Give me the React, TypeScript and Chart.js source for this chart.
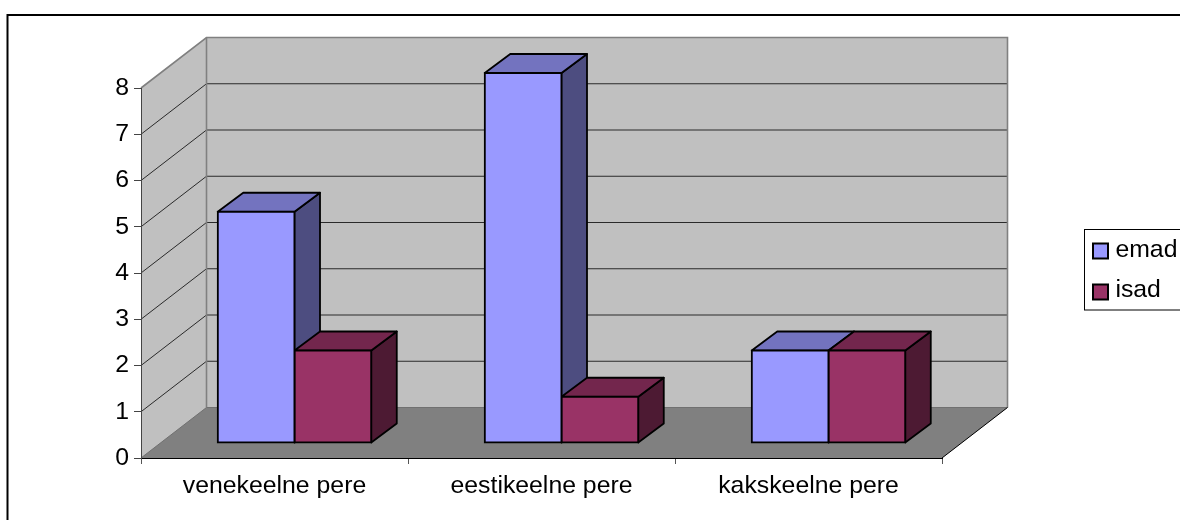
import React, { useEffect, useRef } from "react";
import { Chart, registerables } from "chart.js";

Chart.register(...registerables);

const categories = ["venekeelne pere", "eestikeelne pere", "kakskeelne pere"];
const emad = [5, 8, 2];
const isad = [2, 1, 2];
const yTicks = [0, 1, 2, 3, 4, 5, 6, 7, 8];

const FONT = "'Liberation Sans', Arial, sans-serif";
const FONT_SIZE = 24.8;
const AREA = { left: 141, right: 942, top: 88, bottom: 458 };
const WALL = { dx: 65.5, dy: -50.5 };
const BAR_SHIFT = { dx: 20, dy: -15 };
const BAR_DEPTH = { dx: 25.5, dy: -19 };
const LEGEND = { x: 1084.5, y: 229.5, bottom: 310, swatchX: 1093, swatchSize: 15, swatchY: [251, 292], rowTop: 237.6, padding: 15.8 };

const palette = [
  { front: "#9999FF", top: "#7373BF", side: "#4D4D80" },
  { front: "#993366", top: "#73264D", side: "#4D1A33" },
];

function poly(ctx: CanvasRenderingContext2D, pts: number[][], fill?: string, stroke?: string, lw = 1) {
  ctx.beginPath();
  pts.forEach((p, i) => (i ? ctx.lineTo(p[0], p[1]) : ctx.moveTo(p[0], p[1])));
  ctx.closePath();
  if (fill) {
    ctx.fillStyle = fill;
    ctx.fill();
  }
  if (stroke) {
    ctx.strokeStyle = stroke;
    ctx.lineWidth = lw;
    ctx.lineJoin = "round";
    ctx.stroke();
  }
}

function line(ctx: CanvasRenderingContext2D, pts: number[][], stroke: string, lw = 1) {
  ctx.beginPath();
  pts.forEach((p, i) => (i ? ctx.lineTo(p[0], p[1]) : ctx.moveTo(p[0], p[1])));
  ctx.strokeStyle = stroke;
  ctx.lineWidth = lw;
  ctx.stroke();
}

const scenePlugin = {
  id: "scene3d",
  afterLayout(chart: any) {
    const l = chart.legend;
    l.left = LEGEND.swatchX - LEGEND.padding;
    l.right = 1300;
    l.top = LEGEND.rowTop - LEGEND.padding;
    l.bottom = 520;
  },
  beforeDraw(chart: any) {
    const { ctx, scales } = chart;
    const y = scales.y;
    const { left, right } = chart.chartArea;
    const yTop = y.getPixelForValue(8);
    const yBase = y.getPixelForValue(0);
    const bx = left + WALL.dx;
    const bxr = right + WALL.dx;
    ctx.save();
    ctx.strokeStyle = "#000";
    ctx.lineWidth = 2;
    ctx.strokeRect(7.5, 15, 1300, 700);
    poly(ctx, [[left, yTop], [bx, yTop + WALL.dy], [bxr, yTop + WALL.dy], [bxr, yBase + WALL.dy], [right, yBase], [left, yBase]], "#C0C0C0");
    poly(ctx, [[left, yBase], [bx, yBase + WALL.dy], [bxr, yBase + WALL.dy], [right, yBase]], "#808080");
    yTicks.forEach((t) => {
      if (t === 0 || t === 8) return;
      const p = y.getPixelForValue(t);
      line(ctx, [[left, p], [bx, p + WALL.dy], [bxr, p + WALL.dy]], "#2a2a2a", 1);
    });
    line(ctx, [[left, yTop], [bx, yTop + WALL.dy], [bxr, yTop + WALL.dy], [bxr, yBase + WALL.dy]], "#808080", 1.6);
    line(ctx, [[bx, yTop + WALL.dy], [bx, yBase + WALL.dy]], "#808080", 1.6);
    line(ctx, [[left, yBase], [bx, yBase + WALL.dy]], "#707070", 1);
    line(ctx, [[bx, yBase + WALL.dy], [bxr, yBase + WALL.dy]], "#707070", 1);
    line(ctx, [[right, yBase], [bxr, yBase + WALL.dy]], "#000", 1);
    ctx.restore();
  },
  beforeDatasetsDraw(chart: any) {
    const { ctx } = chart;
    ctx.save();
    ctx.translate(BAR_SHIFT.dx, BAR_SHIFT.dy);
    chart.data.datasets.forEach((_: any, di: number) => {
      const colors = palette[di];
      chart.getDatasetMeta(di).data.forEach((bar: any) => {
        const { x, y, base, width } = bar.getProps(["x", "y", "base", "width"], true);
        const l = x - width / 2;
        const r = x + width / 2;
        const d = BAR_DEPTH;
        poly(ctx, [[r, y], [r + d.dx, y + d.dy], [r + d.dx, base + d.dy], [r, base]], colors.side, "#000", 1.8);
        poly(ctx, [[l, y], [l + d.dx, y + d.dy], [r + d.dx, y + d.dy], [r, y]], colors.top, "#000", 1.8);
      });
    });
  },
  afterDatasetsDraw(chart: any) {
    chart.ctx.restore();
  },
  afterDraw(chart: any) {
    const { ctx } = chart;
    ctx.save();
    ctx.strokeStyle = "#000";
    ctx.lineWidth = 1;
    ctx.strokeRect(LEGEND.x, LEGEND.y, 300, LEGEND.bottom - LEGEND.y);
    chart.data.datasets.forEach((ds: any, i: number) => {
      const cy = LEGEND.swatchY[i];
      ctx.fillStyle = ds.backgroundColor;
      ctx.lineWidth = 2;
      ctx.fillRect(LEGEND.swatchX, cy - LEGEND.swatchSize / 2, LEGEND.swatchSize, LEGEND.swatchSize);
      ctx.strokeRect(LEGEND.swatchX, cy - LEGEND.swatchSize / 2, LEGEND.swatchSize, LEGEND.swatchSize);
    });
    ctx.restore();
  },
};

export default function App() {
  const ref = useRef<HTMLCanvasElement>(null);
  useEffect(() => {
    document.body.style.margin = "0";
    document.body.style.background = "#fff";
    const chart = new Chart(ref.current!, {
      type: "bar",
      data: {
        labels: categories,
        datasets: [
          { label: "emad", data: emad, backgroundColor: palette[0].front, borderColor: "#000", borderWidth: 2, inflateAmount: 1, borderSkipped: false, clip: false },
          { label: "isad", data: isad, backgroundColor: palette[1].front, borderColor: "#000", borderWidth: 2, inflateAmount: 1, borderSkipped: false, clip: false },
        ],
      } as any,
      options: {
        responsive: false,
        animation: false,
        events: [],
        layout: {
          autoPadding: false,
          padding: { left: 0, top: AREA.top, bottom: 0, right: 0 },
        },
        datasets: { bar: { barPercentage: 1, categoryPercentage: 0.575 } },
        scales: {
          x: {
            type: "category",
            offset: true,
            grid: { offset: true, drawOnChartArea: false, drawTicks: true, tickLength: 6, color: "#555" },
            border: { color: "#000", width: 1 },
            ticks: { autoSkip: false, maxRotation: 0, padding: 7, color: "#000", font: { family: FONT, size: FONT_SIZE } },
            afterFit: (s: any) => {
              s.height = 520 - AREA.bottom;
            },
          },
          y: {
            min: 0,
            max: 8,
            ticks: { stepSize: 1, padding: 5, color: "#000", font: { family: FONT, size: FONT_SIZE } },
            grid: { drawOnChartArea: false, drawTicks: true, tickLength: 7, color: "#444" },
            border: { color: "#444", width: 1 },
            afterFit: (s: any) => {
              s.width = AREA.left;
            },
          },
        },
        plugins: {
          title: { display: false },
          tooltip: { enabled: false },
          legend: {
            display: true,
            position: "right",
            align: "start",
            labels: {
              boxWidth: 10,
              boxHeight: 11,
              padding: LEGEND.padding,
              color: "#000",
              font: { family: FONT, size: FONT_SIZE, lineHeight: 1.2 },
            },
          },
        },
      } as any,
      plugins: [scenePlugin as any],
    });
    (chart.options.layout as any).padding.right = 1180 - AREA.right - (chart.legend as any).width;
    chart.update();
    return () => chart.destroy();
  }, []);
  return <canvas ref={ref} width={1180} height={520} style={{ display: "block" }} />;
}
